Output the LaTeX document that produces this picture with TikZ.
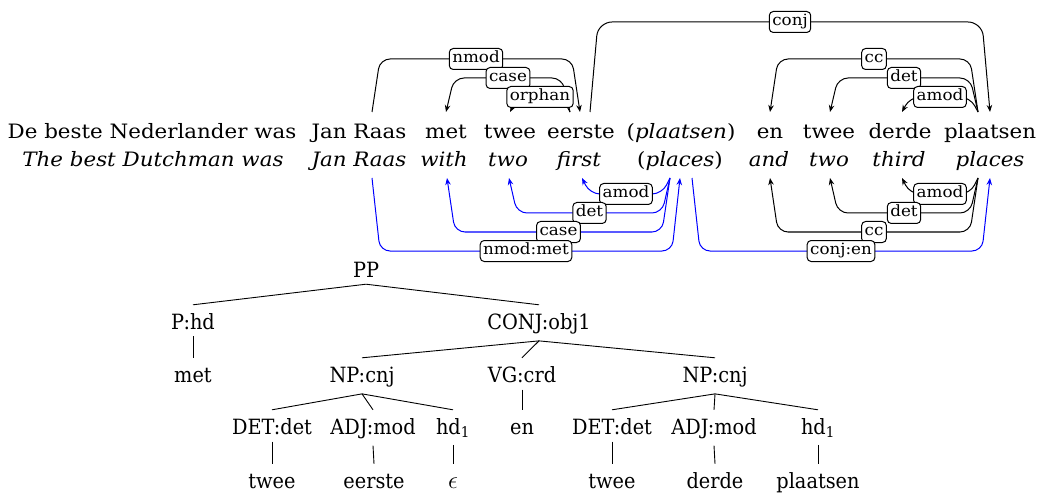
\documentclass[tikz,border=0pt]{standalone}
\usepackage{fontspec}
\setmainfont{DejaVu Serif}[FakeStretch=1.08]
\newfontfamily\treefont{DejaVu Serif}[FakeStretch=0.92]
\usetikzlibrary{arrows.meta,calc}
\newcommand\arcup[7]{%
  \draw[dep,#1] let \p1=([xshift=#3pt]#2.base), \p2=([xshift=#5pt]#4.base) in
    (\x1,\y1+27pt) -- (\x1+8pt,-#6pt) -- (\x2-8pt,-#6pt) -- (\x2,\y2+27pt)
    node[lab] at ({0.5*\x1+0.5*\x2},-#6pt) {#7};}
\newcommand\arcdown[7]{%
  \draw[dep,#1] let \p1=([xshift=#3pt]#2.base), \p2=([xshift=#5pt]#4.base) in
    (\x1,\y1-11pt) -- (\x1+8pt,-#6pt) -- (\x2-8pt,-#6pt) -- (\x2,\y2-11pt)
    node[lab] at ({0.5*\x1+0.5*\x2},-#6pt) {#7};}
\tikzset{
  wd/.style={anchor=base, inner sep=0pt, font={\fontsize{19.8}{24}\selectfont}},
  gl/.style={anchor=base, inner sep=0pt, font={\fontsize{19.8}{24}\selectfont\itshape}},
  lab/.style={draw=black, text=black, fill=white, rounded corners=4pt, line width=1pt,
    inner xsep=3pt, inner ysep=0pt, minimum height=21pt, text height=11pt, text depth=3.5pt,
    font={\fontsize{15.5}{18}\selectfont}},
  dep/.style={line width=1pt, rounded corners=10pt, >={Stealth[length=7pt,width=5.5pt]}},
  tn/.style={anchor=base, inner xsep=0pt, inner ysep=7pt, text height=17pt,
    font={\treefont\fontsize{21}{25}\selectfont}},
  tl/.style={line width=0.9pt},
}
\begin{document}
\begin{tikzpicture}[x=1pt,y=1pt]
\useasboundingbox (0,0) rectangle (1040,-494);
% sentence
\node[wd] (w1) at (152,-139) {De beste Nederlander was};
\node[wd] (w2) at (359,-139) {Jan Raas};
\node[wd] (w3) at (446,-139) {met};
\node[wd] (w4) at (510,-139) {twee};
\node[wd] (w5) at (581,-139) {eerste};
\node[wd] (w6) at (681,-139) {(\textit{plaatsen})};
\node[wd] (w7) at (770,-139) {en};
\node[wd] (w8) at (829,-139) {twee};
\node[wd] (w9) at (900,-139) {derde};
\node[wd] (w10) at (990,-139) {plaatsen};
% gloss
\node[gl] (g1) at (153,-167) {The best Dutchman was};
\node[gl] (g2) at (359,-167) {Jan Raas};
\node[gl] (g3) at (444,-167) {with};
\node[gl] (g4) at (508,-167) {two};
\node[gl] (g5) at (579,-167) {first};
\node[gl] (g6) at (680,-167) {{\upshape(}places{\upshape)}};
\node[gl] (g7) at (769,-167) {and};
\node[gl] (g8) at (829,-167) {two};
\node[gl] (g9) at (899,-167) {third};
\node[gl] (g10) at (990,-167) {places};
% top arcs
\arcup{->}{w2}{13}{w5}{-1}{59}{nmod}
\arcup{<-}{w3}{0}{w5}{-11}{78}{case}
\arcup{<-}{w4}{0}{w5}{-11}{97}{orphan}
\arcup{->,rounded corners=14pt}{w5}{9}{w10}{0}{22}{conj}
\arcup{<-}{w7}{0}{w10}{-12}{59}{cc}
\arcup{<-}{w8}{1}{w10}{-12}{78}{det}
\arcup{<-}{w9}{2}{w10}{-12}{97}{amod}
% bottom arcs
\arcdown{<-,blue}{g5}{3}{g6}{-10}{194}{amod}
\arcdown{<-,blue}{g4}{1}{g6}{-10}{213}{det}
\arcdown{<-,blue}{g3}{3}{g6}{-10}{232}{case}
\arcdown{->,blue}{g2}{13}{g6}{0}{251}{nmod:met}
\arcdown{<-}{g9}{3}{g10}{-12}{194}{amod}
\arcdown{<-}{g8}{1}{g10}{-12}{213}{det}
\arcdown{<-}{g7}{1}{g10}{-12}{232}{cc}
\arcdown{->,blue}{g6}{12}{g10}{0}{251}{conj:en}
% tree
\node[tn] (pp) at (366,-277) {PP};
\node[tn] (phd) at (193,-329) {P:hd};
\node[tn] (conj) at (539,-329) {CONJ:obj1};
\node[tn] (met) at (193,-382) {met};
\node[tn] (np1) at (362,-382) {NP:cnj};
\node[tn] (vg) at (522,-382) {VG:crd};
\node[tn] (np2) at (715,-382) {NP:cnj};
\node[tn] (det1) at (272,-434) {DET:det};
\node[tn] (adj1) at (373,-434) {ADJ:mod};
\node[tn] (hd1) at (453,-434) {hd\textsubscript{1}};
\node[tn] (en) at (522,-434) {en};
\node[tn] (det2) at (612,-434) {DET:det};
\node[tn] (adj2) at (714,-434) {ADJ:mod};
\node[tn] (hd2) at (818,-434) {hd\textsubscript{1}};
\node[tn] (twee1) at (272,-488) {twee};
\node[tn] (eerste) at (374,-488) {eerste};
\node[tn] (eps) at (453,-488) {\fontsize{26}{28}\selectfont$\epsilon$};
\node[tn] (twee2) at (612,-488) {twee};
\node[tn] (derde) at (715,-488) {derde};
\node[tn] (plaatsen) at (818,-488) {plaatsen};
\draw[tl] (pp.south) -- (phd.north);
\draw[tl] (pp.south) -- (conj.north);
\draw[tl] (phd.south) -- (met.north);
\draw[tl] (conj.south) -- (np1.north);
\draw[tl] (conj.south) -- (vg.north);
\draw[tl] (conj.south) -- (np2.north);
\draw[tl] (vg.south) -- (en.north);
\draw[tl] (np1.south) -- (det1.north);
\draw[tl] (np1.south) -- (adj1.north);
\draw[tl] (np1.south) -- (hd1.north);
\draw[tl] (np2.south) -- (det2.north);
\draw[tl] (np2.south) -- (adj2.north);
\draw[tl] (np2.south) -- (hd2.north);
\draw[tl] (det1.south) -- (twee1.north);
\draw[tl] (adj1.south) -- (eerste.north);
\draw[tl] (hd1.south) -- (eps.north);
\draw[tl] (det2.south) -- (twee2.north);
\draw[tl] (adj2.south) -- (derde.north);
\draw[tl] (hd2.south) -- (plaatsen.north);
\end{tikzpicture}
\end{document}
